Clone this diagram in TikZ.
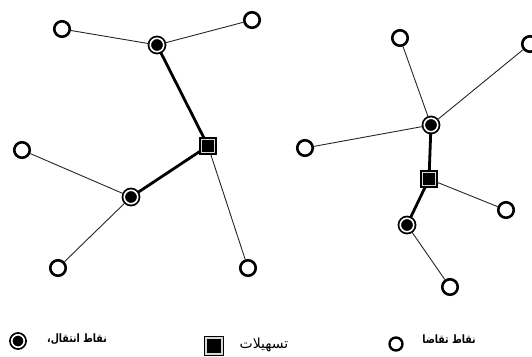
\documentclass[tikz,border=0pt]{standalone}
\usepackage{fontspec}
\newfontfamily\arabicfont[Script=Arabic]{DejaVu Sans}
\newfontfamily\arabicnarrow[Script=Arabic,FakeStretch=0.82]{DejaVu Sans}
\TeXXeTstate=1
\begin{document}
\begin{tikzpicture}[x=1pt,y=-1pt,
  demand/.style={circle,draw=black,line width=2.6pt,fill=white,minimum size=15.5pt,inner sep=0pt},
  transfer/.style={circle,draw=black,line width=1.8pt,double=white,double distance=1.6pt,fill=black,minimum size=13.5pt,inner sep=0pt},
  facility/.style={rectangle,draw=black,line width=1.6pt,double=white!85!black,double distance=1.4pt,fill=black,minimum size=13pt,inner sep=0pt},
  thinedge/.style={draw=black!85,line width=0.9pt},
  thickedge/.style={draw=black,line width=2.8pt},
  lbl/.style={font=\arabicfont\fontsize{14}{16}\selectfont,inner sep=0pt,anchor=center},
  lblb/.style={font=\arabicnarrow\bfseries\fontsize{11.5}{14}\selectfont,inner sep=0pt,anchor=center}
]
\useasboundingbox (0,0) rectangle (532,356);
% left network
\node[demand] (a1) at (62,29) {};
\node[demand] (a2) at (252,20) {};
\node[transfer] (t1) at (157,45) {};
\node[facility] (f1) at (208,146) {};
\node[demand] (a3) at (22,150) {};
\node[transfer] (t2) at (131,197) {};
\node[demand] (a4) at (58,268) {};
\node[demand] (a5) at (248,268) {};
% right network
\node[demand] (b1) at (400,38) {};
\node[demand] (b2) at (530,44) {};
\node[transfer] (t3) at (431,125) {};
\node[demand] (b3) at (305,148) {};
\node[facility] (f2) at (429,179) {};
\node[demand] (b4) at (506,210) {};
\node[transfer] (t4) at (407,225) {};
\node[demand] (b5) at (450,287) {};
% edges
\draw[thinedge] (a1) -- (t1);
\draw[thinedge] (a2) -- (t1);
\draw[thickedge] (t1) -- (f1);
\draw[thickedge] (f1) -- (t2);
\draw[thinedge] (a3) -- (t2);
\draw[thinedge] (t2) -- (a4);
\draw[thinedge] (f1) -- (a5);
\draw[thinedge] (b1) -- (t3);
\draw[thinedge] (b2) -- (t3);
\draw[thinedge] (b3) -- (t3);
\draw[thickedge] (t3) -- (f2);
\draw[thinedge] (f2) -- (b4);
\draw[thickedge] (f2) -- (t4);
\draw[thinedge] (t4) -- (b5);
% legend
\node[transfer,minimum size=12.5pt] (lt) at (18,341) {};
\node[lblb] (ltx) at (77,339) {\beginR نقاط انتقال،\endR};
\node[facility,minimum size=16pt] (lf) at (214,346) {};
\node[lbl] (lfx) at (264,345) {\beginR تسهيلات\endR};
\node[demand,line width=2.4pt,minimum size=13pt] (ld) at (396,344) {};
\node[lblb] (ldx) at (449,339) {\beginR نقاط تقاضا\endR};
\end{tikzpicture}
\end{document}
